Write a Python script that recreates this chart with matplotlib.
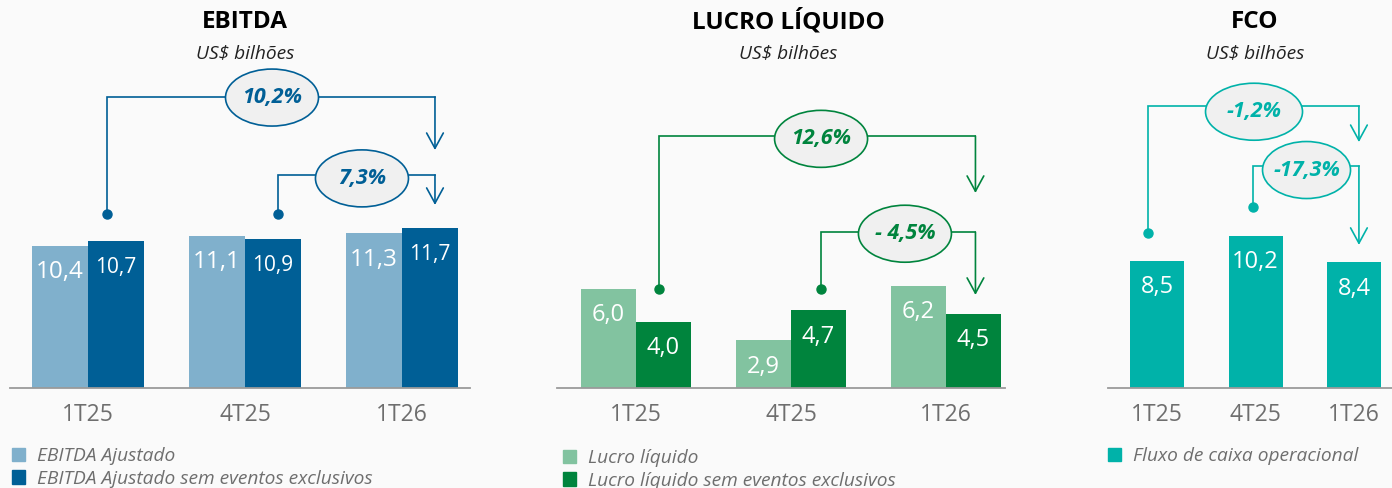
import matplotlib
matplotlib.use('Agg')
import matplotlib.pyplot as plt
from matplotlib.patches import Ellipse, Patch

plt.rcParams['font.family'] = ['Open Sans', 'DejaVu Sans']

# data
quarters = ['1T25', '4T25', '1T26']
ebitda_aj = [10.4, 11.1, 11.3]
ebitda_sem = [10.7, 10.9, 11.7]
lucro = [6.0, 2.9, 6.2]
lucro_sem = [4.0, 4.7, 4.5]
fco = [8.5, 10.2, 8.4]
var_ebitda = ['10,2%', '7,3%']
var_lucro = ['12,6%', '- 4,5%']
var_fco = ['-1,2%', '-17,3%']

BG = '#fafafa'
GRAY = '#6e6e6e'
EB_LIGHT, EB_DARK = '#80b0cc', '#005f96'
LU_LIGHT, LU_DARK = '#82c3a0', '#00843d'
FCO_C = '#00b2a9'

W, H = 1392, 488
fig = plt.figure(figsize=(W / 100, H / 100), dpi=100, facecolor=BG)

BASE = 388   # baseline pixel row
TOP = 60


def make_ax(x0, x1, c0, step, px_y):
    ax = fig.add_axes([x0 / W, (H - BASE) / H, (x1 - x0) / W, (BASE - TOP) / H])
    ax.set_facecolor('none')
    ax.set_xlim((x0 - c0) / step, (x1 - c0) / step)
    ax.set_ylim(0, (BASE - TOP) / px_y)
    for s in ['left', 'right', 'top']:
        ax.spines[s].set_visible(False)
    ax.spines['bottom'].set_color('#9a9a9a')
    ax.spines['bottom'].set_linewidth(1.3)
    ax.set_yticks([])
    ax.set_xticks(range(len(quarters)), quarters)
    ax.tick_params(axis='x', length=0, pad=11, labelsize=16.5, labelcolor=GRAY)
    ax.px = (step, px_y)
    return ax


def fmt(v):
    return f'{v:.1f}'.replace('.', ',')


def labels(ax, xs, vals, size=17):
    for x, v in zip(xs, vals):
        ax.annotate(fmt(v), (x, v), xytext=(0, -19), textcoords='offset points',
                    ha='center', va='center', color='white', fontsize=size)


def bracket(ax, x_dot, y_dot, y_top, x_arr, y_tip, color):
    ax.plot([x_dot, x_dot, x_arr], [y_dot, y_top, y_top], color=color, lw=1.2,
            clip_on=False, solid_joinstyle='miter')
    ax.plot([x_dot], [y_dot], 'o', color=color, ms=6.5, clip_on=False)
    ax.annotate('', xy=(x_arr, y_tip), xytext=(x_arr, y_top),
                arrowprops=dict(arrowstyle='->,head_length=0.55,head_width=0.3',
                                color=color, lw=1.2, shrinkA=0, shrinkB=0,
                                mutation_scale=20),
                annotation_clip=False)


def bubble(ax, x, y, txt, color, w=93, h=57):
    sx, sy = ax.px
    ax.add_patch(Ellipse((x, y), w / sx, h / sy, facecolor='#f0f0f0',
                         edgecolor=color, lw=1.2, clip_on=False, zorder=3))
    ax.text(x, y, txt, ha='center', va='center', color=color, fontsize=15.5,
            fontweight='bold', fontstyle='italic', zorder=4)


def legend(ax, handles, x, y):
    ax.legend(handles=handles, loc='upper left', bbox_to_anchor=(x / W, 1 - y / H),
              bbox_transform=fig.transFigure, frameon=False, borderpad=0,
              handlelength=0.7, handleheight=0.7, handletextpad=0.6,
              labelspacing=0.25, borderaxespad=0,
              prop={'size': 13.8, 'style': 'italic'}, labelcolor=GRAY)


def header(x, title):
    fig.text(x / W, 1 - 22 / H, title, ha='center', va='center', fontsize=17.5,
             fontweight='bold', color='black')
    fig.text(x / W, 1 - 53 / H, 'US$ bilhões', ha='center', va='center',
             fontsize=13.8, fontstyle='italic', color='#222222')


x = list(range(len(quarters)))

# EBITDA
ax1 = make_ax(10, 470, 88, 157, 13.7)
bw = 56 / 157
ax1.bar([i - bw / 2 for i in x], ebitda_aj, bw, color=EB_LIGHT)
ax1.bar([i + bw / 2 for i in x], ebitda_sem, bw, color=EB_DARK)
labels(ax1, [i - bw / 2 for i in x], ebitda_aj, size=17.5)
labels(ax1, [i + bw / 2 for i in x], ebitda_sem, size=15)
bracket(ax1, 0.12, 12.7, 21.24, 2.21, 17.37, EB_DARK)
bracket(ax1, 1.21, 12.7, 15.55, 2.21, 13.36, EB_DARK)
bubble(ax1, 1.172, 21.2, var_ebitda[0], EB_DARK)
bubble(ax1, 1.745, 15.3, var_ebitda[1], EB_DARK)
header(245, 'EBITDA')
legend(ax1, [Patch(color=EB_LIGHT, label='EBITDA Ajustado'),
             Patch(color=EB_DARK, label='EBITDA Ajustado sem eventos exclusivos')], 12, 447)

# Lucro liquido
ax2 = make_ax(557, 1005, 636, 155, 16.5)
bw = 55 / 155
ax2.bar([i - bw / 2 for i in x], lucro, bw, color=LU_LIGHT)
ax2.bar([i + bw / 2 for i in x], lucro_sem, bw, color=LU_DARK)
labels(ax2, [i - bw / 2 for i in x], lucro)
labels(ax2, [i + bw / 2 for i in x], lucro_sem)
bracket(ax2, 0.148, 6.0, 15.27, 2.19, 11.82, LU_DARK)
bracket(ax2, 1.194, 6.0, 9.45, 2.19, 5.64, LU_DARK)
bubble(ax2, 1.194, 15.1, var_lucro[0], LU_DARK)
bubble(ax2, 1.735, 9.35, var_lucro[1], LU_DARK)
header(788, 'LUCRO LÍQUIDO')
legend(ax2, [Patch(color=LU_LIGHT, label='Lucro líquido'),
             Patch(color=LU_DARK, label='Lucro líquido sem eventos exclusivos')], 563, 449)

# FCO
ax3 = make_ax(1108, 1392, 1157, 98.5, 14.95)
bw = 54 / 98.5
ax3.bar(x, fco, bw, color=FCO_C)
labels(ax3, x, fco)
bracket(ax3, -0.091, 10.37, 18.86, 2.05, 16.45, FCO_C)
bracket(ax3, 0.975, 12.1, 14.85, 2.05, 9.57, FCO_C)
bubble(ax3, 0.985, 18.48, var_fco[0], FCO_C, w=97)
bubble(ax3, 1.518, 14.58, var_fco[1], FCO_C, w=88)
header(1255, 'FCO')
legend(ax3, [Patch(color=FCO_C, label='Fluxo de caixa operacional')], 1108, 447)

fig.savefig('out.png', dpi=100, facecolor=BG)
